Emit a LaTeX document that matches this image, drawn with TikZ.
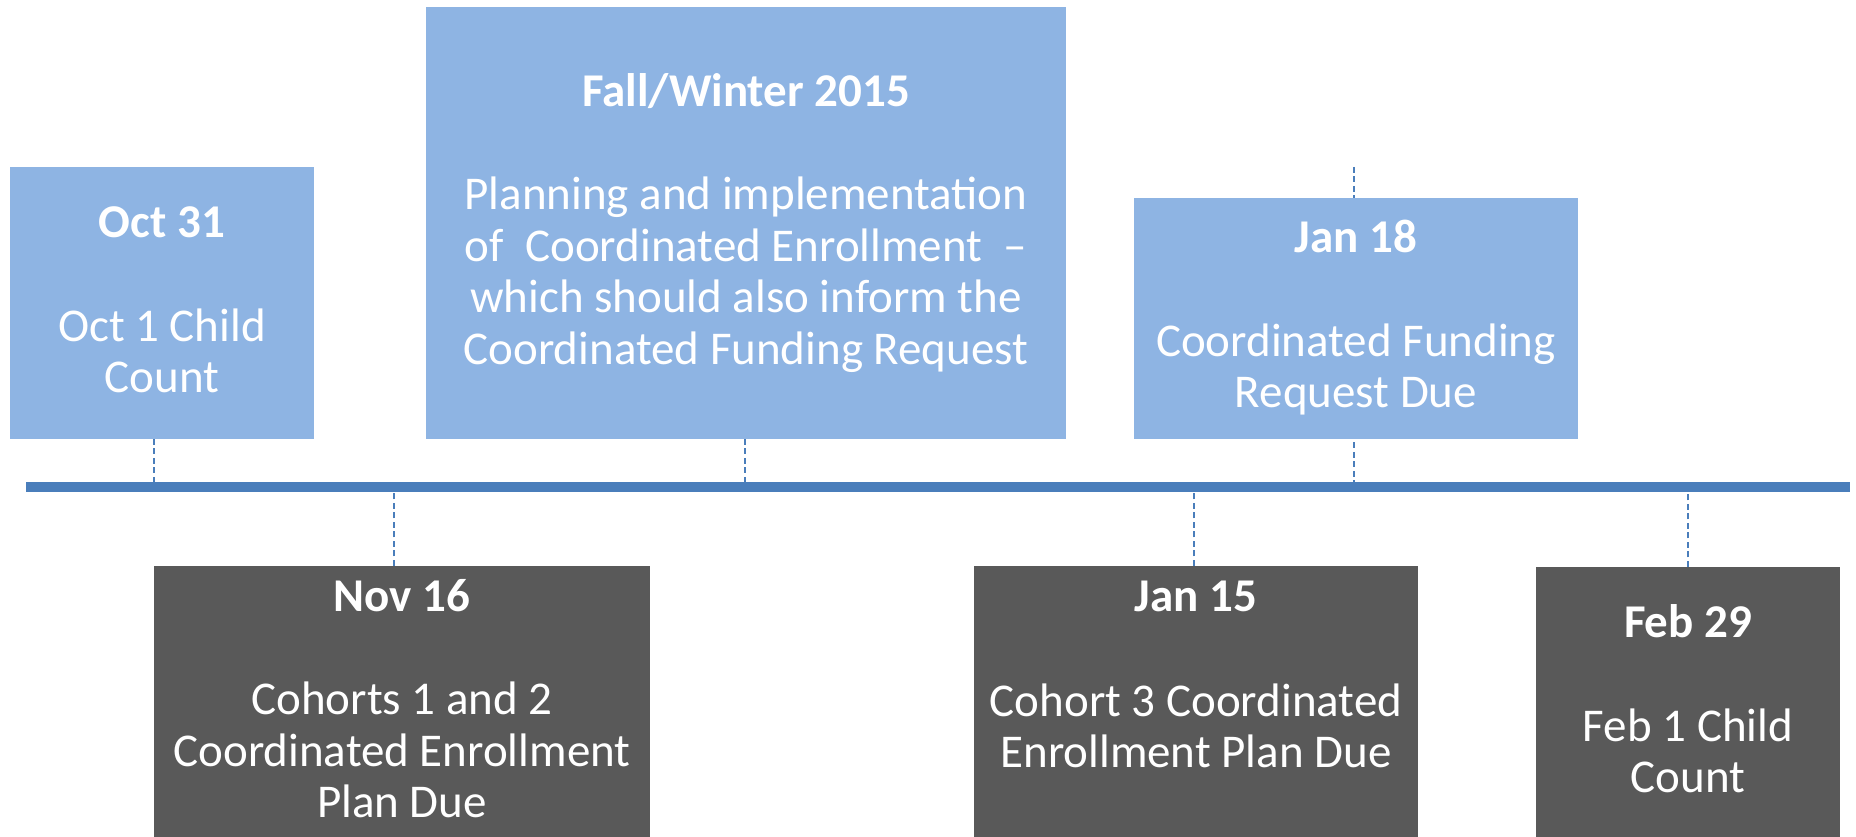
\documentclass[tikz,border=0pt]{standalone}
\usepackage{fontspec}
\setmainfont{Carlito}
\usetikzlibrary{backgrounds}
\definecolor{boxblue}{HTML}{8EB4E3}
\definecolor{boxgray}{HTML}{595959}
\definecolor{lineblue}{HTML}{4A7EBB}
\tikzset{
  bluebox/.style={rectangle, fill=boxblue, draw=none, inner sep=0pt, outer sep=0pt},
  graybox/.style={rectangle, fill=boxgray, draw=none, inner sep=0pt, outer sep=0pt},
  ttl/.style={anchor=base, text=white, inner sep=0pt, font=\fontsize{47}{56}\selectfont\bfseries},
  bodyl/.style={anchor=base, text=white, inner sep=0pt, font=\fontsize{47}{56}\selectfont},
  tickline/.style={lineblue, line width=2pt, dash pattern=on 6pt off 3.5pt},
  timeline/.style={lineblue, line width=10pt},
}
\begin{document}
\begin{tikzpicture}[x=1pt,y=1pt]
\useasboundingbox (0,0) rectangle (1856,837);
\clip (0,0) rectangle (1856,837);

% boxes
\node[bluebox, minimum width=304pt, minimum height=272pt] (oct) at (162,534) {};
\node[bluebox, minimum width=640pt, minimum height=432pt] (fall) at (746,614) {};
\node[bluebox, minimum width=444pt, minimum height=241pt] (janeighteen) at (1356,518.5) {};
\node[graybox, minimum width=496pt, minimum height=284pt] (nov) at (402,129) {};
\node[graybox, minimum width=444pt, minimum height=284pt] (janfifteen) at (1196,129) {};
\node[graybox, minimum width=304pt, minimum height=283pt] (feb) at (1688,128.5) {};

% timeline coordinates
\coordinate (tlstart) at (26,350);
\coordinate (tlend) at (1850,350);
\coordinate (toct) at (154,350);
\coordinate (tfall) at (745,350);
\coordinate (tjaneighteen) at (1354,350);
\coordinate (tjantop) at (1354,670);
\coordinate (tnov) at (394,350);
\coordinate (tjanfifteen) at (1194,350);
\coordinate (tfeb) at (1688,350);

\begin{pgfonlayer}{background}
  \draw[tickline] (oct.south -| toct) -- (toct);
  \draw[tickline] (fall.south -| tfall) -- (tfall);
  \draw[tickline] (tjantop) -- (tjaneighteen);
  \draw[tickline] (nov.north -| tnov) -- (tnov);
  \draw[tickline] (janfifteen.north -| tjanfifteen) -- (tjanfifteen);
  \draw[tickline] (feb.north -| tfeb) -- (tfeb);
  \draw[timeline] (tlstart) -- (tlend);
\end{pgfonlayer}

% Oct 31
\node[ttl] (octt) at (162,599) {Oct 31};
\node[bodyl] (octa) at (162,495) {Oct 1 Child};
\node[bodyl] (octb) at (162,444) {Count};

% Fall/Winter 2015
\node[ttl] (fallt) at (746,730) {Fall/Winter 2015};
\node[bodyl] (falla) at (746,627) {Planning and implementation};
\node[bodyl] (fallb) at (746,575) {of\ \ Coordinated Enrollment\ \ –};
\node[bodyl] (fallc) at (746,524) {which should also inform the};
\node[bodyl] (falld) at (746,472) {Coordinated Funding Request};

% Jan 18
\node[ttl] (jet) at (1356,584) {Jan 18};
\node[bodyl] (jea) at (1356,480) {Coordinated Funding};
\node[bodyl] (jeb) at (1356,429) {Request Due};

% Nov 16
\node[ttl] (novt) at (402,225) {Nov 16};
\node[bodyl] (nova) at (402,122) {Cohorts 1 and 2};
\node[bodyl] (novb) at (402,70) {Coordinated Enrollment};
\node[bodyl] (novc) at (402,19) {Plan Due};

% Jan 15
\node[ttl] (jft) at (1196,225) {Jan 15};
\node[bodyl] (jfa) at (1196,120) {Cohort 3 Coordinated};
\node[bodyl] (jfb) at (1196,69) {Enrollment Plan Due};

% Feb 29
\node[ttl] (febt) at (1688,199) {Feb 29};
\node[bodyl] (feba) at (1688,95) {Feb 1 Child};
\node[bodyl] (febb) at (1688,44) {Count};
\end{tikzpicture}
\end{document}
